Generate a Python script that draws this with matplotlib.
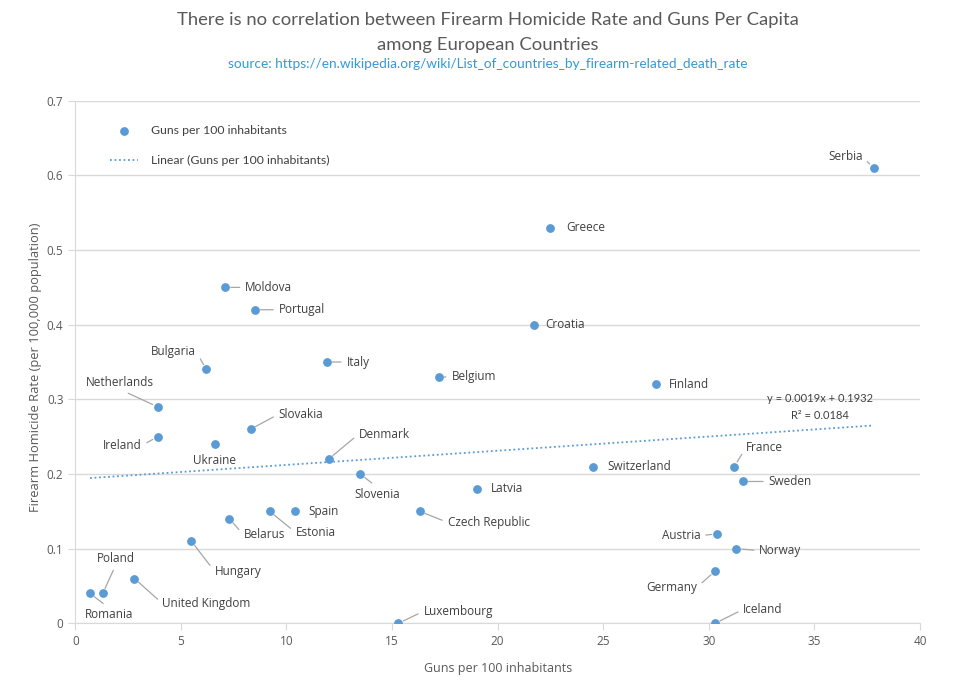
import matplotlib
matplotlib.use("Agg")
import matplotlib.pyplot as plt
from matplotlib import font_manager

countries = ["Serbia", "Greece", "Moldova", "Portugal", "Croatia", "Bulgaria", "Italy",
             "Belgium", "Finland", "Netherlands", "Slovakia", "Ireland", "Ukraine", "Denmark",
             "Slovenia", "Spain", "Estonia", "Belarus", "Latvia", "Czech Republic",
             "Switzerland", "France", "Sweden", "Austria", "Norway", "Germany", "Iceland",
             "Luxembourg", "Hungary", "United Kingdom", "Poland", "Romania"]
guns = [37.8, 22.5, 7.1, 8.5, 21.7, 6.2, 11.9,
        17.2, 27.5, 3.9, 8.3, 3.9, 6.6, 12.0,
        13.5, 10.4, 9.2, 7.3, 19.0, 16.3,
        24.5, 31.2, 31.6, 30.4, 31.3, 30.3, 30.3,
        15.3, 5.5, 2.8, 1.3, 0.7]
homicide = [0.61, 0.53, 0.45, 0.42, 0.40, 0.34, 0.35,
            0.33, 0.32, 0.29, 0.26, 0.25, 0.24, 0.22,
            0.20, 0.15, 0.15, 0.14, 0.18, 0.15,
            0.21, 0.21, 0.19, 0.12, 0.10, 0.07, 0.00,
            0.00, 0.11, 0.06, 0.04, 0.04]
trend_slope = 0.0019
trend_intercept = 0.1932
r_squared = 0.0184
x_ticks = [0, 5, 10, 15, 20, 25, 30, 35, 40]
y_ticks = [0, 0.1, 0.2, 0.3, 0.4, 0.5, 0.6, 0.7]
y_tick_labels = ["0", "0.1", "0.2", "0.3", "0.4", "0.5", "0.6", "0.7"]

# label layout: (ha, dx px, dy px, leader, relpos)
layout = {
    "Serbia": ("right", -11, 11, True, (1, 0.5)),
    "Greece": ("left", 16, 0, False, None),
    "Moldova": ("left", 20, 0, True, (0, 0.5)),
    "Portugal": ("left", 24, 0, True, (0, 0.5)),
    "Croatia": ("left", 12, 0, False, None),
    "Bulgaria": ("right", -10, 18, True, (1, 0.5)),
    "Italy": ("left", 20, 0, True, (0, 0.5)),
    "Belgium": ("left", 13, 0, True, (0, 0.5)),
    "Finland": ("left", 13, 0, False, None),
    "Netherlands": ("center", -38, 24, True, (0.5, 0)),
    "Slovakia": ("left", 28, 15, True, (0, 0.5)),
    "Ireland": ("right", -16, -9, True, (1, 0.5)),
    "Ukraine": ("center", 0, -16, False, None),
    "Denmark": ("left", 30, 25, True, (0, 0.5)),
    "Slovenia": ("center", 17, -20, True, (0.5, 1)),
    "Spain": ("left", 13, 0, False, None),
    "Estonia": ("left", 26, -21, True, (0, 0.5)),
    "Belarus": ("left", 14, -16, True, (0, 0.5)),
    "Latvia": ("left", 14, 0, False, None),
    "Czech Republic": ("left", 28, -11, True, (0, 0.5)),
    "Switzerland": ("left", 15, 0, False, None),
    "France": ("left", 12, 19, True, (0, 0.5)),
    "Sweden": ("left", 26, 0, True, (0, 0.5)),
    "Austria": ("right", -17, -2, True, (1, 0.5)),
    "Norway": ("left", 23, -2, True, (0, 0.5)),
    "Germany": ("right", -18, -16, True, (1, 0.5)),
    "Iceland": ("left", 28, 14, True, (0, 0.5)),
    "Luxembourg": ("left", 25, 12, True, (0, 0.5)),
    "Hungary": ("left", 23, -30, True, (0, 0.5)),
    "United Kingdom": ("left", 28, -25, True, (0, 0.5)),
    "Poland": ("center", 13, 35, True, (0.5, 0)),
    "Romania": ("center", 19, -21, True, (0.5, 1)),
}

names = {f.name for f in font_manager.fontManager.ttflist}
narrow = "Lato" if "Lato" in names else "DejaVu Sans"
label_font = "Open Sans" if "Open Sans" in names else "DejaVu Sans"

blue = "#5B9BD5"
gray_text = "#595959"
grid_col = "#D9D9D9"

fig = plt.figure(figsize=(9.75, 6.98), dpi=100)
ax = fig.add_axes([0.0772, 0.107, 0.8664, 0.7487])

ax.scatter(guns, homicide, s=28, color=blue, zorder=3, label="Guns per 100 inhabitants")
tx = [min(guns), max(guns)]
ty = [trend_slope * v + trend_intercept for v in tx]
ax.plot(tx, ty, linestyle=(0, (1, 1.5)), color=blue, lw=1.3, zorder=2,
        label="Linear (Guns per 100 inhabitants)")

for name, gx, hy in zip(countries, guns, homicide):
    ha, dx, dy, leader, rel = layout[name]
    kw = {}
    if leader:
        kw["arrowprops"] = dict(arrowstyle="-", color="#A6A6A6", lw=0.9,
                                shrinkA=2, shrinkB=4, relpos=rel)
    ax.annotate(name, (gx, hy), xytext=(dx, dy), textcoords="offset pixels",
                ha=ha, va="center", fontsize=8.5, color="#404040",
                family=label_font, zorder=4, **kw)

ax.text(35.25, 0.3005, f"y = {trend_slope}x + {trend_intercept}", ha="center", va="center",
        fontsize=8, color="#404040", family=narrow)
ax.text(35.25, 0.279, f"R² = {r_squared}", ha="center", va="center",
        fontsize=8, color="#404040", family=narrow)

ax.set_xlim(0, 40)
ax.set_ylim(0, 0.7)
ax.set_xticks(x_ticks)
ax.set_yticks(y_ticks)
ax.set_yticklabels(y_tick_labels)
ax.grid(axis="y", color=grid_col, lw=1)
ax.set_axisbelow(True)
for s in ["top", "right"]:
    ax.spines[s].set_visible(False)
for s in ["left", "bottom"]:
    ax.spines[s].set_color(grid_col)
ax.tick_params(colors=grid_col, labelcolor=gray_text, labelsize=8.5, length=5)
for t in ax.get_xticklabels() + ax.get_yticklabels():
    t.set_family(label_font)

ax.set_xlabel("Guns per 100 inhabitants", fontsize=9, color=gray_text, family=label_font, labelpad=10)
ax.set_ylabel("Firearm Homicide Rate (per 100,000 population)", fontsize=9.3, color=gray_text,
              family=label_font)
ax.yaxis.set_label_coords(-0.039, 0.49)

leg = ax.legend(loc="upper left", bbox_to_anchor=(0.028, 0.974), frameon=False,
                labelspacing=1.55, handlelength=2.3, handletextpad=1.1,
                prop={"family": narrow, "size": 8.8})
for t in leg.get_texts():
    t.set_color("#404040")

fig.text(0.5, 0.971, "There is no correlation between Firearm Homicide Rate and Guns Per Capita",
         ha="center", va="center", fontsize=13.3, color=gray_text, family=narrow)
fig.text(0.5, 0.935, "among European Countries", ha="center", va="center",
         fontsize=13.3, color=gray_text, family=narrow)
fig.text(0.5, 0.908, "source: https://en.wikipedia.org/wiki/List_of_countries_by_firearm-related_death_rate",
         ha="center", va="center", fontsize=9.8, color="#2E9BD6", family=narrow)

fig.savefig("out.png", dpi=100, facecolor="white")
